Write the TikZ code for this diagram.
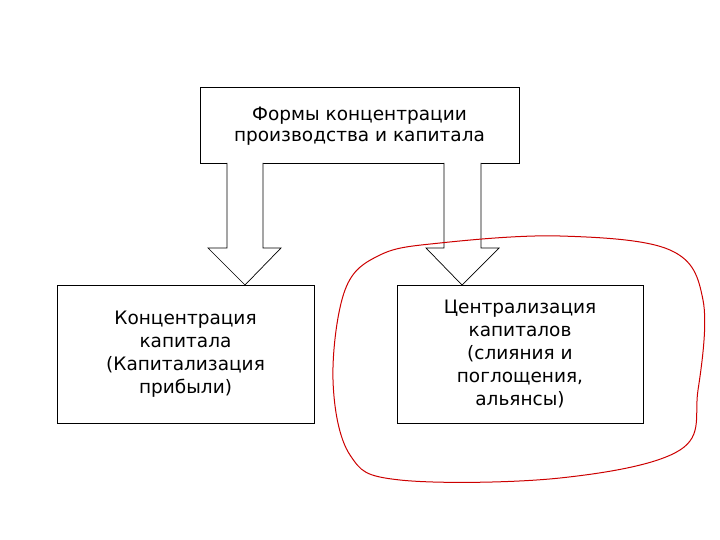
\documentclass[tikz,border=0pt]{standalone}
\usepackage{fontspec}
\setmainfont{DejaVu Sans}
\begin{document}
\begin{tikzpicture}[x=1pt,y=-1pt,
  box/.style={draw,line width=0.8pt,fill=white},
  lbl/.style={align=center},
  blk/.style={draw,fill=white,line width=0.7pt}]
\useasboundingbox (0,0) rectangle (720,540);
\draw[box] (200,87) rectangle (519,163);
\node[lbl,font=\fontsize{18.5}{21}\selectfont] (top) at (359.5,126) {Формы концентрации\\производства и капитала};
\draw[box] (57,285) rectangle (314,423);
\node[lbl,font=\fontsize{18.5}{23}\selectfont] (left) at (185.5,354) {Концентрация\\капитала\\(Капитализация\\прибыли)};
\draw[box] (397,285) rectangle (643,423);
\node[lbl,font=\fontsize{18.5}{23}\selectfont] (right) at (520,354) {Централизация\\капиталов\\(слияния и\\поглощения,\\альянсы)};
\draw[blk] (227,163) -- (227,248) -- (208,248) -- (245,285) -- (281,248) -- (263,248) -- (263,163);
\draw[blk] (444,163) -- (444,248) -- (426,248) -- (462,285) -- (499,248) -- (481,248) -- (481,163);
\draw[red!80!black,line width=1pt] plot[smooth cycle,tension=0.6] coordinates {
 (440,243) (560,236) (670,250) (703,300) (698,390) (680,450) (560,478) (400,480) (350,455)
 (333,380) (345,290) (380,255)};
\end{tikzpicture}
\end{document}
